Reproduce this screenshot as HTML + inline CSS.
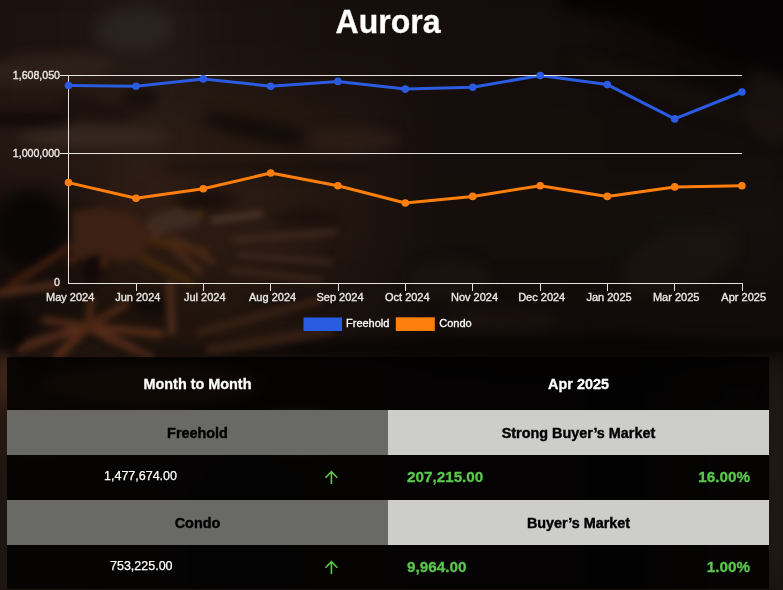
<!DOCTYPE html>
<html>
<head>
<meta charset="utf-8">
<style>
html,body{margin:0;padding:0;}
body{width:783px;height:590px;overflow:hidden;position:relative;background:#110b08;font-family:"Liberation Sans",Arial,sans-serif;}
#bg{position:absolute;left:0;top:0;width:783px;height:590px;overflow:hidden;}
#bg svg{position:absolute;left:0;top:0;}
.title{position:absolute;left:0;width:776px;top:2px;transform:scale(1,1.06);transform-origin:50% 31px;text-align:center;color:#fff;-webkit-text-stroke:0.3px #fff;font-weight:bold;font-size:32px;line-height:40px;}
svg.chart{position:absolute;left:0;top:0;}
.tbl{position:absolute;left:7px;top:357px;width:762px;height:232px;background:rgba(0,0,0,0.8);}
.cell{position:absolute;box-sizing:border-box;}
.hd{color:#fff;-webkit-text-stroke:0.3px #fff;font-weight:bold;font-size:14.4px;text-align:center;}
.g1{background:rgba(108,108,105,0.97);color:#000;-webkit-text-stroke:0.4px #000;font-weight:bold;font-size:14.4px;text-align:center;}
.g2{background:rgba(209,209,208,0.98);color:#000;-webkit-text-stroke:0.4px #000;font-weight:bold;font-size:14.4px;text-align:center;}
.t{position:absolute;white-space:nowrap;}
.w{color:#fff;-webkit-text-stroke:0.25px #fff;font-size:12.5px;}
.gr{color:#5ac84c;-webkit-text-stroke:0.3px #5ac84c;font-weight:bold;font-size:15.25px;}
</style>
</head>
<body>
<div id="bg"><svg id="bgsvg" width="783" height="590" viewBox="0 0 783 590"><defs><filter id="bb" x="-10%" y="-10%" width="120%" height="120%" color-interpolation-filters="sRGB"><feGaussianBlur stdDeviation="28"/></filter><filter id="b2" x="-50%" y="-50%" width="200%" height="200%" color-interpolation-filters="sRGB"><feGaussianBlur stdDeviation="6"/></filter><filter id="b3" x="-50%" y="-50%" width="200%" height="200%" color-interpolation-filters="sRGB"><feGaussianBlur stdDeviation="3.2"/></filter></defs><g filter="url(#bb)"><rect x="-40.0" y="-40" width="138.9" height="131" fill="#1c130f"/><rect x="97.9" y="-40" width="98.9" height="131" fill="#221915"/><rect x="195.8" y="-40" width="98.9" height="131" fill="#1b120e"/><rect x="293.6" y="-40" width="98.9" height="131" fill="#170f0c"/><rect x="391.5" y="-40" width="98.9" height="131" fill="#150e0c"/><rect x="489.4" y="-40" width="98.9" height="131" fill="#140d0b"/><rect x="587.2" y="-40" width="98.9" height="131" fill="#0f0a08"/><rect x="685.1" y="-40" width="138.9" height="131" fill="#080605"/><rect x="-40.0" y="90" width="138.9" height="91" fill="#271913"/><rect x="97.9" y="90" width="98.9" height="91" fill="#2a1c15"/><rect x="195.8" y="90" width="98.9" height="91" fill="#271911"/><rect x="293.6" y="90" width="98.9" height="91" fill="#20150f"/><rect x="391.5" y="90" width="98.9" height="91" fill="#160e0c"/><rect x="489.4" y="90" width="98.9" height="91" fill="#150e0b"/><rect x="587.2" y="90" width="98.9" height="91" fill="#130c0a"/><rect x="685.1" y="90" width="138.9" height="91" fill="#120c0a"/><rect x="-40.0" y="180" width="138.9" height="91" fill="#170f0c"/><rect x="97.9" y="180" width="98.9" height="91" fill="#2f1c12"/><rect x="195.8" y="180" width="98.9" height="91" fill="#2b1b13"/><rect x="293.6" y="180" width="98.9" height="91" fill="#21150f"/><rect x="391.5" y="180" width="98.9" height="91" fill="#150e0b"/><rect x="489.4" y="180" width="98.9" height="91" fill="#150e0b"/><rect x="587.2" y="180" width="98.9" height="91" fill="#141009"/><rect x="685.1" y="180" width="138.9" height="91" fill="#15100d"/><rect x="-40.0" y="270" width="138.9" height="91" fill="#160e0a"/><rect x="97.9" y="270" width="98.9" height="91" fill="#1f130c"/><rect x="195.8" y="270" width="98.9" height="91" fill="#21150e"/><rect x="293.6" y="270" width="98.9" height="91" fill="#1a110d"/><rect x="391.5" y="270" width="98.9" height="91" fill="#120c0a"/><rect x="489.4" y="270" width="98.9" height="91" fill="#110b09"/><rect x="587.2" y="270" width="98.9" height="91" fill="#100b09"/><rect x="685.1" y="270" width="138.9" height="91" fill="#100b09"/><rect x="-40.0" y="360" width="138.9" height="91" fill="#2a1a12"/><rect x="97.9" y="360" width="98.9" height="91" fill="#221610"/><rect x="195.8" y="360" width="98.9" height="91" fill="#1a120e"/><rect x="293.6" y="360" width="98.9" height="91" fill="#160f0c"/><rect x="391.5" y="360" width="98.9" height="91" fill="#140e0b"/><rect x="489.4" y="360" width="98.9" height="91" fill="#140e0b"/><rect x="587.2" y="360" width="98.9" height="91" fill="#130d0b"/><rect x="685.1" y="360" width="138.9" height="91" fill="#1a1410"/><rect x="-40.0" y="450" width="138.9" height="91" fill="#1e1713"/><rect x="97.9" y="450" width="98.9" height="91" fill="#1a1410"/><rect x="195.8" y="450" width="98.9" height="91" fill="#161110"/><rect x="293.6" y="450" width="98.9" height="91" fill="#140f0d"/><rect x="391.5" y="450" width="98.9" height="91" fill="#140e0b"/><rect x="489.4" y="450" width="98.9" height="91" fill="#140e0b"/><rect x="587.2" y="450" width="98.9" height="91" fill="#130d0b"/><rect x="685.1" y="450" width="138.9" height="91" fill="#1a1410"/><rect x="-40.0" y="540" width="138.9" height="151" fill="#1e1713"/><rect x="97.9" y="540" width="98.9" height="151" fill="#1a1410"/><rect x="195.8" y="540" width="98.9" height="151" fill="#161110"/><rect x="293.6" y="540" width="98.9" height="151" fill="#140f0d"/><rect x="391.5" y="540" width="98.9" height="151" fill="#140e0b"/><rect x="489.4" y="540" width="98.9" height="151" fill="#140e0b"/><rect x="587.2" y="540" width="98.9" height="151" fill="#130d0b"/><rect x="685.1" y="540" width="138.9" height="151" fill="#1a1410"/></g><g filter="url(#b2)"><ellipse cx="135" cy="30" rx="40" ry="22" transform="rotate(-5 135 30)" fill="#2e2520" fill-opacity="0.75"/><ellipse cx="45" cy="70" rx="70" ry="16" transform="rotate(-5 45 70)" fill="#33241c" fill-opacity="0.7"/><ellipse cx="30" cy="119" rx="45" ry="8" transform="rotate(0 30 119)" fill="#0e0807" fill-opacity="0.9"/><ellipse cx="95" cy="110" rx="40" ry="9" transform="rotate(10 95 110)" fill="#180e0a" fill-opacity="0.8"/><ellipse cx="140" cy="98" rx="18" ry="12" transform="rotate(0 140 98)" fill="#140b08" fill-opacity="0.8"/><ellipse cx="95" cy="137" rx="75" ry="11" transform="rotate(0 95 137)" fill="#382a23" fill-opacity="0.8"/><ellipse cx="260" cy="130" rx="60" ry="11" transform="rotate(12 260 130)" fill="#120a07" fill-opacity="0.85"/><ellipse cx="350" cy="140" rx="50" ry="12" transform="rotate(0 350 140)" fill="#33221a" fill-opacity="0.6"/><ellipse cx="270" cy="167" rx="110" ry="7" transform="rotate(0 270 167)" fill="#140c09" fill-opacity="0.6"/><ellipse cx="30" cy="230" rx="38" ry="40" transform="rotate(0 30 230)" fill="#0b0606" fill-opacity="0.95"/><ellipse cx="205" cy="200" rx="30" ry="9" transform="rotate(0 205 200)" fill="#120a08" fill-opacity="0.8"/><ellipse cx="305" cy="218" rx="35" ry="7" transform="rotate(0 305 218)" fill="#140c09" fill-opacity="0.7"/><ellipse cx="15" cy="330" rx="18" ry="25" transform="rotate(0 15 330)" fill="#0a0605" fill-opacity="0.9"/><ellipse cx="150" cy="305" rx="18" ry="12" transform="rotate(0 150 305)" fill="#0c0706" fill-opacity="0.8"/><ellipse cx="280" cy="240" rx="45" ry="14" transform="rotate(0 280 240)" fill="#2c1d15" fill-opacity="0.6"/><ellipse cx="300" cy="300" rx="60" ry="8" transform="rotate(0 300 300)" fill="#120b09" fill-opacity="0.5"/><ellipse cx="450" cy="280" rx="40" ry="20" transform="rotate(0 450 280)" fill="#1e1511" fill-opacity="0.6"/><ellipse cx="500" cy="320" rx="60" ry="12" transform="rotate(0 500 320)" fill="#1e1410" fill-opacity="0.6"/><ellipse cx="680" cy="260" rx="60" ry="30" transform="rotate(-20 680 260)" fill="#1c1511" fill-opacity="0.7"/><ellipse cx="680" cy="95" rx="120" ry="12" transform="rotate(18 680 95)" fill="#1a120e" fill-opacity="0.5"/><ellipse cx="775" cy="100" rx="30" ry="45" transform="rotate(0 775 100)" fill="#1e1612" fill-opacity="0.6"/><ellipse cx="560" cy="348" rx="280" ry="12" transform="rotate(0 560 348)" fill="#060403" fill-opacity="0.8"/><ellipse cx="250" cy="354" rx="140" ry="5" transform="rotate(0 250 354)" fill="#080504" fill-opacity="0.7"/><ellipse cx="5" cy="378" rx="12" ry="25" transform="rotate(0 5 378)" fill="#3e2619" fill-opacity="0.9"/><ellipse cx="776" cy="470" rx="6" ry="120" transform="rotate(0 776 470)" fill="#2a2018" fill-opacity="0.6"/><ellipse cx="150" cy="385" rx="110" ry="22" transform="rotate(0 150 385)" fill="#4a2e1c" fill-opacity="0.9"/><ellipse cx="300" cy="430" rx="40" ry="20" transform="rotate(0 300 430)" fill="#8a8070" fill-opacity="0.8"/><polygon points="560,-20 800,-20 800,85 700,48 620,18 560,8" fill="#050303" fill-opacity="0.9"/></g><g filter="url(#b3)"><line x1="88" y1="326" x2="28" y2="345" stroke="#552b1a" stroke-width="9" stroke-linecap="round"/><line x1="88" y1="326" x2="45" y2="320" stroke="#4d2815" stroke-width="7" stroke-linecap="round"/><line x1="88" y1="326" x2="58" y2="356" stroke="#512a17" stroke-width="9" stroke-linecap="round"/><line x1="88" y1="326" x2="135" y2="350" stroke="#542d19" stroke-width="9" stroke-linecap="round"/><line x1="88" y1="326" x2="160" y2="334" stroke="#512a16" stroke-width="8" stroke-linecap="round"/><line x1="88" y1="326" x2="125" y2="305" stroke="#4c2714" stroke-width="7" stroke-linecap="round"/><line x1="88" y1="326" x2="92" y2="300" stroke="#482613" stroke-width="7" stroke-linecap="round"/><line x1="60" y1="335" x2="20" y2="350" stroke="#4a2717" stroke-width="7" stroke-linecap="round"/><line x1="110" y1="340" x2="150" y2="356" stroke="#4a2717" stroke-width="7" stroke-linecap="round"/><line x1="0" y1="293" x2="55" y2="285" stroke="#4a2918" stroke-width="8" stroke-linecap="round"/><line x1="170" y1="284" x2="172" y2="332" stroke="#4a2b19" stroke-width="8" stroke-linecap="round"/><line x1="78" y1="242" x2="10" y2="286" stroke="#3e1c0d" stroke-width="8" stroke-linecap="round"/><line x1="150" y1="226" x2="200" y2="214" stroke="#47280c" stroke-width="8" stroke-linecap="round"/><line x1="150" y1="240" x2="206" y2="252" stroke="#44250c" stroke-width="8" stroke-linecap="round"/><line x1="140" y1="256" x2="190" y2="282" stroke="#42260c" stroke-width="8" stroke-linecap="round"/><line x1="200" y1="332" x2="320" y2="300" stroke="#382013" stroke-width="8" stroke-linecap="round"/><line x1="145" y1="230" x2="178" y2="210" stroke="#493122" stroke-width="6" stroke-linecap="round"/><line x1="150" y1="236" x2="185" y2="222" stroke="#462e23" stroke-width="6" stroke-linecap="round"/><line x1="165" y1="240" x2="200" y2="272" stroke="#4a2918" stroke-width="6" stroke-linecap="round"/><line x1="175" y1="238" x2="212" y2="262" stroke="#47281b" stroke-width="6" stroke-linecap="round"/><line x1="214" y1="220" x2="260" y2="214" stroke="#483125" stroke-width="7" stroke-linecap="round"/><line x1="235" y1="240" x2="335" y2="232" stroke="#40271b" stroke-width="6" stroke-linecap="round"/><line x1="240" y1="255" x2="330" y2="262" stroke="#3c251c" stroke-width="6" stroke-linecap="round"/><line x1="232" y1="270" x2="320" y2="280" stroke="#3a2317" stroke-width="6" stroke-linecap="round"/><line x1="100" y1="232" x2="70" y2="262" stroke="#4b2413" stroke-width="6" stroke-linecap="round"/><line x1="118" y1="240" x2="95" y2="275" stroke="#482312" stroke-width="6" stroke-linecap="round"/><line x1="210" y1="350" x2="330" y2="330" stroke="#351e12" stroke-width="10" stroke-linecap="round"/><polygon points="72,212 100,207 135,214 152,234 142,258 120,262 100,254 86,262 72,250" fill="#3b2013"/><ellipse cx="175" cy="220" rx="26" ry="10" fill="#3a2c23" fill-opacity="0.8"/><ellipse cx="92" cy="270" rx="9" ry="14" fill="#120807"/></g></svg></div>

<div class="title">Aurora</div>

<svg class="chart" width="783" height="360" viewBox="0 0 783 360">
  <g fill="#ece8e4" stroke="#ece8e4" stroke-width="0.35" font-family="Liberation Sans, Arial, sans-serif" font-size="10.6">
    <text x="60" y="79" text-anchor="end">1,608,050</text>
    <text x="60" y="157" text-anchor="end">1,000,000</text>
    <text x="60" y="286" text-anchor="end">0</text>
  </g>
  <g fill="#ece8e4" stroke="#ece8e4" stroke-width="0.35" font-family="Liberation Sans, Arial, sans-serif" font-size="11" text-anchor="middle">
    <text x="70.2" y="300.5">May 2024</text>
    <text x="137.8" y="300.5">Jun 2024</text>
    <text x="204.8" y="300.5">Jul 2024</text>
    <text x="272.6" y="300.5">Aug 2024</text>
    <text x="340" y="300.5">Sep 2024</text>
    <text x="407.3" y="300.5">Oct 2024</text>
    <text x="474.5" y="300.5">Nov 2024</text>
    <text x="541.7" y="300.5">Dec 2024</text>
    <text x="609.1" y="300.5">Jan 2025</text>
    <text x="676.2" y="300.5">Mar 2025</text>
    <text x="743.7" y="300.5">Apr 2025</text>
  </g>
  <polyline fill="none" stroke="#2a5be0" stroke-width="3" stroke-linejoin="round"
    points="68.5,85.5 136,86.2 203.3,78.9 270.7,86.2 337.9,81.4 405.3,89.1 472.7,87.2 540.2,75.6 607.3,84.6 674.7,118.9 741.9,92"/>
  <polyline fill="none" stroke="#ff7f0e" stroke-width="3" stroke-linejoin="round"
    points="68.5,182.6 136,198.3 203.3,188.7 270.7,173 337.9,185.8 405.3,203 472.7,196.4 540.2,185.7 607.3,196.4 674.7,186.9 741.9,185.7"/>
  <g stroke="#e6e2dd" stroke-width="1" fill="none" shape-rendering="crispEdges">
    <line x1="60" y1="75.5" x2="742" y2="75.5"/>
    <line x1="60" y1="153.5" x2="742" y2="153.5"/>
    <line x1="68.5" y1="75" x2="68.5" y2="284"/>
    <line x1="68" y1="283.5" x2="742.5" y2="283.5"/>
    <line x1="136.5" y1="283" x2="136.5" y2="291"/>
    <line x1="203.5" y1="283" x2="203.5" y2="291"/>
    <line x1="270.5" y1="283" x2="270.5" y2="291"/>
    <line x1="338.5" y1="283" x2="338.5" y2="291"/>
    <line x1="405.5" y1="283" x2="405.5" y2="291"/>
    <line x1="472.5" y1="283" x2="472.5" y2="291"/>
    <line x1="540.5" y1="283" x2="540.5" y2="291"/>
    <line x1="607.5" y1="283" x2="607.5" y2="291"/>
    <line x1="674.5" y1="283" x2="674.5" y2="291"/>
    <line x1="742.5" y1="283" x2="742.5" y2="291"/>
  </g>
  <g fill="#2a5be0">
    <circle cx="68.5" cy="85.5" r="3.8"/><circle cx="136" cy="86.2" r="3.8"/><circle cx="203.3" cy="78.9" r="3.8"/>
    <circle cx="270.7" cy="86.2" r="3.8"/><circle cx="337.9" cy="81.4" r="3.8"/><circle cx="405.3" cy="89.1" r="3.8"/>
    <circle cx="472.7" cy="87.2" r="3.8"/><circle cx="540.2" cy="75.6" r="3.8"/><circle cx="607.3" cy="84.6" r="3.8"/>
    <circle cx="674.7" cy="118.9" r="3.8"/><circle cx="741.9" cy="92" r="3.8"/>
  </g>
  <g fill="#ff7f0e">
    <circle cx="68.5" cy="182.6" r="3.8"/><circle cx="136" cy="198.3" r="3.8"/><circle cx="203.3" cy="188.7" r="3.8"/>
    <circle cx="270.7" cy="173" r="3.8"/><circle cx="337.9" cy="185.8" r="3.8"/><circle cx="405.3" cy="203" r="3.8"/>
    <circle cx="472.7" cy="196.4" r="3.8"/><circle cx="540.2" cy="185.7" r="3.8"/><circle cx="607.3" cy="196.4" r="3.8"/>
    <circle cx="674.7" cy="186.9" r="3.8"/><circle cx="741.9" cy="185.7" r="3.8"/>
  </g>
  <rect x="303.5" y="317.5" width="38.5" height="13.5" fill="#2a5be0"/>
  <rect x="395.8" y="317.3" width="39" height="13.7" fill="#ff7f0e"/>
  <g fill="#ffffff" stroke="#ffffff" stroke-width="0.3" font-family="Liberation Sans, Arial, sans-serif" font-size="11">
    <text x="346" y="327">Freehold</text>
    <text x="439.3" y="327">Condo</text>
  </g>
</svg>

<div class="tbl">
  <div class="cell hd" style="left:0;top:0;width:381px;height:53px;"><span class="t" style="left:0;right:0;top:19px;">Month to Month</span></div>
  <div class="cell hd" style="left:381px;top:0;width:381px;height:53px;"><span class="t" style="left:0;right:0;top:19px;">Apr 2025</span></div>

  <div class="cell g1" style="left:0;top:53px;width:381px;height:45px;"><span class="t" style="left:0;right:0;top:15px;">Freehold</span></div>
  <div class="cell g2" style="left:381px;top:53px;width:381px;height:45px;"><span class="t" style="left:0;right:0;top:15px;">Strong Buyer’s Market</span></div>

  <span class="t w" style="left:97px;top:112px;">1,477,674.00</span>
  <svg class="t" style="left:317px;top:113px;" width="14" height="14" viewBox="0 0 14 14"><path d="M7.4 1.7V13.9M1.4 7.8L7.4 1.7L13.4 7.8" stroke="#5ac84c" stroke-width="1.6" fill="none"/></svg>
  <span class="t gr" style="left:400px;top:111px;">207,215.00</span>
  <span class="t gr" style="right:19px;top:111px;">16.00%</span>

  <div class="cell g1" style="left:0;top:143px;width:381px;height:45px;"><span class="t" style="left:0;right:0;top:15px;">Condo</span></div>
  <div class="cell g2" style="left:381px;top:143px;width:381px;height:45px;"><span class="t" style="left:0;right:0;top:15px;">Buyer’s Market</span></div>

  <span class="t w" style="left:103px;top:202px;">753,225.00</span>
  <svg class="t" style="left:317px;top:202.5px;" width="14" height="14" viewBox="0 0 14 14"><path d="M7.4 1.7V13.9M1.4 7.8L7.4 1.7L13.4 7.8" stroke="#5ac84c" stroke-width="1.6" fill="none"/></svg>
  <span class="t gr" style="left:400px;top:201px;">9,964.00</span>
  <span class="t gr" style="right:19px;top:201px;">1.00%</span>
</div>
</body>
</html>
